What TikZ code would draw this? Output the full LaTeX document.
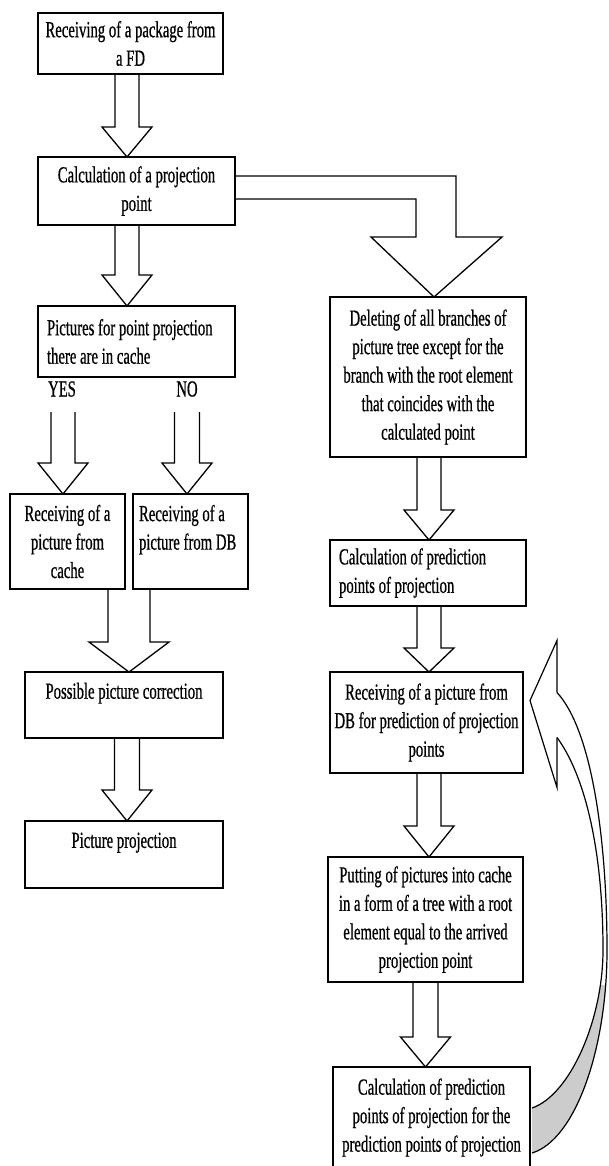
\documentclass[tikz,border=0pt]{standalone}
\usepackage{fontspec}
\setmainfont{Liberation Serif}[FakeStretch=0.64, FakeBold=0.6]
\usetikzlibrary{calc}

\begin{document}
\begin{tikzpicture}[
  x=1pt, y=-1pt,
  box/.style = {draw, line width=1.6pt, outer sep=0pt, inner sep=2pt, anchor=north west,
                align=center, font=\fontsize{23}{28.5}\selectfont},
  leftbox/.style = {box, align=flush left, inner xsep=9pt},
  yn/.style = {font=\fontsize{23}{28.5}\selectfont},
  blk/.style n args = {3}{line width=1.3pt,
     to path={let \p1=(\tikztostart), \p2=(\tikztotarget) in
       (\x1-#1pt,\y1) -- (\x1-#1pt,\y2+#3pt) -- (\x1-#2pt,\y2+#3pt) -- (\x1,\y2)
       -- (\x1+#2pt,\y2+#3pt) -- (\x1+#1pt,\y2+#3pt) -- (\x1+#1pt,\y1)}},
  loop/.style = {line width=1.2pt}
]
  \fill[white] (0,0) rectangle (608,1166);
  \useasboundingbox (0,0) rectangle (608,1166);

  % left column
  \node[box, minimum width=185, minimum height=61] (fd) at (38,13)
       {Receiving of a package from\\a FD};
  \node[box, minimum width=197, minimum height=68] (proj) at (38,157)
       {Calculation of a projection\\point};
  \node[leftbox, text width=179, minimum height=71] (incache) at (38,306)
       {Pictures for point projection\\there are in cache};
  \node[yn] (yes) at (62,389) {YES};
  \node[yn] (no)  at (187,389) {NO};
  \node[box, minimum width=115, minimum height=95] (cache) at (10,494)
       {Receiving of a\\picture from\\cache};
  \node[leftbox, inner xsep=6pt, text width=103, minimum height=95] (db) at (133,494)
       {Receiving of a\\picture from DB\\\mbox{}};
  \node[box, minimum width=198, minimum height=66] (correct) at (25,672)
       {Possible picture correction\\\mbox{}};
  \node[box, minimum width=198, minimum height=67] (show) at (25,821)
       {Picture projection\\\mbox{}};

  % right column
  \node[box, minimum width=196, minimum height=160] (delete) at (330,297)
       {Deleting of all branches of\\picture tree except for the\\branch with the root element\\that coincides with the\\calculated point};
  \node[leftbox, text width=178, minimum height=66] (pred) at (330,540)
       {Calculation of prediction\\points of projection};
  \node[box, minimum width=193, minimum height=101] (fetch) at (330,672)
       {Receiving of a picture from\\DB for prediction of projection\\points};
  \node[box, minimum width=195, minimum height=125] (store) at (328,857)
       {Putting of pictures into cache\\in a form of a tree with a root\\element equal to the arrived\\projection point};
  \node[box, minimum width=197, minimum height=101] (predpred) at (333,1067)
       {Calculation of prediction\\points of projection for the\\prediction points of projection};

  % block arrows
  \draw[blk={12}{25}{30}] ([xshift=-3.5pt]fd.south) to (proj.north);
  \draw[blk={12}{25}{31}] ([xshift=-9.5pt]proj.south) to (incache.north);
  \draw[blk={12}{25}{31}] ([xshift=-73.5pt,yshift=-35pt]incache.south) to (cache.north);
  \draw[blk={12.5}{25}{31}] ([xshift=50.5pt,yshift=-35pt]incache.south) to (db.north);
  \draw[blk={21}{40}{30}] ($(cache.south east)!0.5!(db.south west)$) to (correct.north);
  \draw[blk={12.5}{25}{31}] ([xshift=3pt]correct.south) to (show.north);
  \draw[blk={12}{25}{30}] ([xshift=1pt]delete.south) to (pred.north);
  \draw[blk={12}{25}{24}] ([xshift=1pt]pred.south) to (fetch.north);
  \draw[blk={12}{25}{31}] ([xshift=2.5pt]fetch.south) to (store.north);
  \draw[blk={12.5}{25}{30}] (store.south) to (predpred.north);

  % bent arrow to the right column
  \draw[line width=1.3pt] let \p1=(proj.north east), \p2=(delete.north) in
    (\x1,\y1-19pt) -- (\x2+28pt,\y1-19pt) -- (\x2+28pt,\y2+60pt) -- (\x2+74pt,\y2+60pt)
    -- (\x2+6pt,\y2) -- (\x2-57pt,\y2+60pt) -- (\x2-12pt,\y2+60pt) -- (\x2-12pt,\y1-42pt)
    -- (\x1,\y1-42pt);

  % curved arrow back to the fetch box
  \coordinate (tip) at ($(fetch.east)+(7,-22)$);
  \coordinate (ht)  at ($(tip)+(27,-60)$);
  \coordinate (hb)  at ($(tip)+(27,87)$);
  \coordinate (os)  at ($(tip)+(27,-8)$);
  \coordinate (is)  at ($(tip)+(27,37)$);
  \coordinate (lo)  at ($(predpred.north east)+(2,86)$);
  \coordinate (li)  at ($(predpred.north east)+(2,41)$);
  \coordinate (om)  at ($(lo)+(75,-203)$);
  \coordinate (im)  at ($(li)+(71,-158)$);
  \begin{scope}
    \clip (500,985) rectangle (608,1166);
    \fill[gray!40] (os) .. controls +(35,38) and +(0,-110) .. (om)
      .. controls +(0,100) and +(43,-13) .. (lo) -- (li)
      .. controls +(38,-13) and +(0,70) .. (im)
      .. controls +(0,-100) and +(28,38) .. (is) -- cycle;
  \end{scope}
  \draw[loop] (os) .. controls +(35,38) and +(0,-110) .. (om)
      .. controls +(0,100) and +(43,-13) .. (lo);
  \draw[loop] (is) .. controls +(28,38) and +(0,-100) .. (im)
      .. controls +(0,70) and +(38,-13) .. (li);
  \draw[loop] (os) -- (ht) -- (tip) -- (hb) -- (is);
\end{tikzpicture}
\end{document}
